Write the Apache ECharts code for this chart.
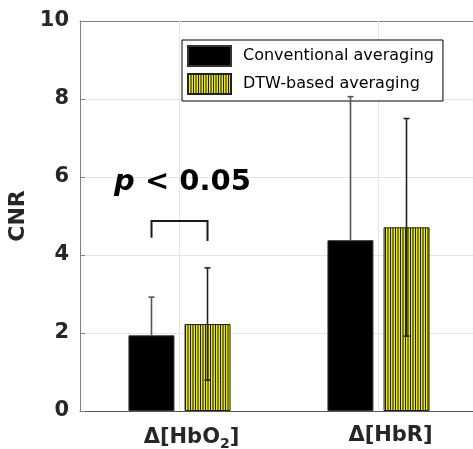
<!DOCTYPE html>
<html>
<head>
<meta charset="utf-8">
<script src="https://cdn.jsdelivr.net/npm/echarts@6/dist/echarts.min.js"></script>
<style>
  html, body { margin: 0; padding: 0; background: #fff; }
  #main { width: 473px; height: 449px; }
</style>
</head>
<body>
<div id="main"></div>
<script>
// data
var categories = ['Δ[HbO₂]', 'Δ[HbR]'];
var seriesNames = ['Conventional averaging', 'DTW-based averaging'];
var convMean = [1.94, 4.38];
var convSd = [0.98, 3.68];
var dtwMean = [2.23, 4.71];
var dtwSd = [1.44, 2.79];
var yTicks = [0, 2, 4, 6, 8, 10];
// significance bracket between the two HbO2 bars: [category, top, left leg end, right leg end]
var bracket = [[0, 4.87, 4.44, 4.36]];
var pText = [[0, 5.87]];

var FONT = 'DejaVu Sans';
var BAR_OFF = 28; // px offset of each bar from the category centre

// yellow with fine vertical black stripes
function stripes() {
    var c = document.createElement('canvas');
    c.width = 5; c.height = 10;
    var g = c.getContext('2d');
    g.fillStyle = '#eeee00';
    g.fillRect(0, 0, 5, 10);
    g.fillStyle = '#151500';
    g.fillRect(0, 0, 1, 10);
    g.fillRect(2.5, 0, 1, 10);
    return c;
}

// [category, low, high]; lowCap false -> the lower half is hidden inside the black bar
function errData(mean, sd, full) {
    var out = [];
    for (var i = 0; i < mean.length; i++) {
        out.push([i, full ? mean[i] - sd[i] : mean[i], mean[i] + sd[i]]);
    }
    return out;
}

function errRender(off, color, lowCap) {
    return function (params, api) {
        var lo = api.coord([api.value(0), api.value(1)]);
        var hi = api.coord([api.value(0), api.value(2)]);
        var x = lo[0] + off;
        var st = { stroke: color, lineWidth: 1.6 };
        var kids = [
            { type: 'line', shape: { x1: x, y1: lo[1], x2: x, y2: hi[1] }, style: st },
            { type: 'line', shape: { x1: x - 3, y1: hi[1], x2: x + 3, y2: hi[1] }, style: st }
        ];
        if (lowCap) {
            kids.push({ type: 'line', shape: { x1: x - 3, y1: lo[1], x2: x + 3, y2: lo[1] }, style: st });
        }
        return { type: 'group', children: kids };
    };
}

var myChart = echarts.init(document.getElementById('main'));
var option = {
    animation: false,
    backgroundColor: '#fff',
    textStyle: { fontFamily: FONT },
    grid: { left: 80, top: 21, width: 398, bottom: 38, containLabel: false, outerBoundsMode: 'none' },
    legend: {
        z: 10,
        left: 182, top: 40,
        orient: 'vertical',
        data: seriesNames,
        icon: 'rect',
        itemWidth: 43, itemHeight: 20, itemGap: 6,
        padding: [5, 9, 6, 5],
        backgroundColor: '#fff',
        borderColor: '#000', borderWidth: 1,
        borderRadius: 0,
        textStyle: { fontFamily: FONT, fontSize: 16, color: '#000', padding: [0, 0, 0, 7] }
    },
    xAxis: [{
        type: 'category',
        data: categories,
        axisLine: { lineStyle: { color: '#555' } },
        axisTick: { inside: true, alignWithLabel: true, length: 4, lineStyle: { color: '#555' } },
        axisLabel: {
            margin: 14,
            formatter: function (v) {
                if (v.indexOf('₂') >= 0) return '{f|Δ[HbO}{s|2}{a|]}';
                return '{f|' + v + '}';
            },
            rich: {
                f: { fontFamily: FONT, fontSize: 21, fontWeight: 'bold', color: '#262626', padding: [0, 0, 0, 24] },
                a: { fontFamily: FONT, fontSize: 21, fontWeight: 'bold', color: '#262626' },
                s: { fontFamily: FONT, fontSize: 14, fontWeight: 'bold', color: '#262626', verticalAlign: 'bottom', padding: [12, 0, 0, 0] }
            }
        },
        splitLine: { show: false }
    }, {
        type: 'category',
        position: 'top',
        data: categories,
        axisLine: { lineStyle: { color: '#808080' } },
        axisTick: { inside: true, alignWithLabel: true, length: 4, lineStyle: { color: '#808080' } },
        axisLabel: { show: false }
    }],
    yAxis: {
        type: 'value',
        min: yTicks[0], max: yTicks[yTicks.length - 1], interval: 2,
        name: 'CNR',
        nameLocation: 'middle',
        nameGap: 47,
        nameTextStyle: { fontFamily: FONT, fontSize: 22, fontWeight: 'bold', color: '#262626' },
        axisLine: { show: true, lineStyle: { color: '#808080' } },
        axisTick: { show: true, inside: true, length: 5, lineStyle: { color: '#808080' } },
        axisLabel: { margin: 11, fontFamily: FONT, fontSize: 21, fontWeight: 'bold', color: '#262626' },
        splitLine: { lineStyle: { color: '#e4e4e4' } }
    },
    series: [
        {
            // carries only the vertical grid lines at the category centres
            type: 'line',
            z: 1,
            data: [],
            silent: true,
            markLine: {
                silent: true,
                symbol: ['none', 'none'],
                label: { show: false },
                lineStyle: { color: '#e4e4e4', type: 'solid', width: 1 },
                data: [{ xAxis: 0 }, { xAxis: 1 }]
            }
        },
        {
            name: seriesNames[0],
            type: 'bar',
            z: 3,
            data: convMean,
            barWidth: 46,
            barGap: '22%',
            itemStyle: { color: '#000', borderColor: '#333', borderWidth: 1 }
        },
        {
            name: seriesNames[1],
            type: 'bar',
            z: 3,
            data: dtwMean,
            barWidth: 46,
            itemStyle: { color: { image: stripes(), repeat: 'repeat' }, borderColor: '#222', borderWidth: 1 }
        },
        {
            type: 'custom',
            z: 11,
            silent: true,
            data: errData(convMean, convSd, false),
            encode: { x: 0, y: [1, 2] },
            renderItem: errRender(-BAR_OFF, '#555', false)
        },
        {
            type: 'custom',
            z: 11,
            silent: true,
            data: errData(dtwMean, dtwSd, true),
            encode: { x: 0, y: [1, 2] },
            renderItem: errRender(BAR_OFF, '#222', true)
        },
        {
            type: 'custom',
            z: 5,
            silent: true,
            data: bracket,
            encode: { x: 0, y: [1, 2, 3] },
            renderItem: function (params, api) {
                var top = api.coord([api.value(0), api.value(1)]);
                var l = api.coord([api.value(0), api.value(2)]);
                var r = api.coord([api.value(0), api.value(3)]);
                var x1 = top[0] - BAR_OFF, x2 = top[0] + BAR_OFF;
                return {
                    type: 'polyline',
                    shape: { points: [[x1, l[1]], [x1, top[1]], [x2, top[1]], [x2, r[1]]] },
                    style: { stroke: '#1a1a1a', lineWidth: 2, fill: null }
                };
            }
        },
        {
            type: 'custom',
            z: 5,
            silent: true,
            data: pText,
            encode: { x: 0, y: 1 },
            renderItem: function (params, api) {
                var p = api.coord([api.value(0), api.value(1)]);
                return {
                    type: 'text',
                    style: {
                        x: p[0] + 3, y: p[1],
                        align: 'center', verticalAlign: 'middle',
                        text: '{i|p} {b|< 0.05}',
                        rich: {
                            i: { fontFamily: FONT, fontSize: 29, fontWeight: 'bold', fontStyle: 'italic', fill: '#000' },
                            b: { fontFamily: FONT, fontSize: 29, fontWeight: 'bold', fill: '#000' }
                        },
                        font: 'bold 29px "DejaVu Sans"',
                        fill: '#000'
                    }
                };
            }
        }
    ]
};
myChart.setOption(option);
</script>
</body>
</html>
